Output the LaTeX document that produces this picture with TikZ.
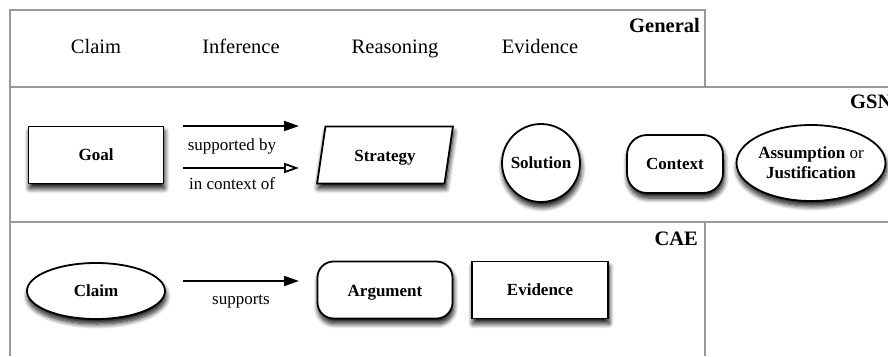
\documentclass[tikz,border=0pt]{standalone}
\usepackage{fontspec}
\setmainfont{Liberation Serif}
\usetikzlibrary{arrows.meta,shapes.geometric,shadows.blur}

\tikzset{
  frame/.style={draw=black!40, line width=2pt},
  rowhead/.style={font=\fontsize{20.5}{24}\selectfont},
  tag/.style={font=\fontsize{20.5}{24}\selectfont\bfseries, inner sep=0pt},
  elem/.style={draw=black, line width=1.8pt, fill=white,
    font=\fontsize{17}{20}\selectfont\bfseries, align=center, inner sep=2pt,
    blur shadow={shadow xshift=1pt, shadow yshift=-5pt,
      shadow blur radius=5pt, shadow blur steps=10, shadow opacity=95}},
  boxel/.style={elem, rectangle, minimum width=135pt, minimum height=57pt},
  roundel/.style={elem, rectangle, rounded corners=16pt},
  ovalel/.style={elem, ellipse},
  slantel/.style={elem, trapezium, trapezium left angle=74,
    trapezium right angle=106, trapezium stretches=true,
    minimum width=136pt, minimum height=57pt},
  rel/.style={line width=1.8pt},
  relfill/.style={rel, -{Triangle[length=15pt,width=10pt]}},
  relopen/.style={rel, -{Triangle[open,length=15pt,width=10pt,fill=white]}},
  rellabel/.style={font=\fontsize{17}{20}\selectfont, inner sep=0pt},
}

\begin{document}
\begin{tikzpicture}[x=1pt,y=-1pt]
  \useasboundingbox (0,0) rectangle (888,356);

  % table rules
  \draw[frame] (888,87) -- (9.5,87) -- (9.5,9.5) -- (705,9.5) -- (705,87);
  \draw[frame] (9.5,87) -- (9.5,356);
  \draw[frame] (9.5,222) -- (888,222);
  \draw[frame] (705,222) -- (705,356);

  % general row
  \node[rowhead, anchor=base] (hclaim) at (96,53) {Claim};
  \node[rowhead, anchor=base] (hinf) at (241,53) {Inference};
  \node[rowhead, anchor=base] (hreas) at (395,53) {Reasoning};
  \node[rowhead, anchor=base] (hevid) at (540,53) {Evidence};
  \node[tag, anchor=base east] (tgen) at (700,32) {General};

  % GSN row
  \node[tag, anchor=base west] (tgsn) at (850,108) {GSN};
  \node[boxel] (goal) at (96,155) {Goal};
  \coordinate (sb1) at (183,126);
  \coordinate (sb2) at (299,126);
  \coordinate (ic1) at (183,168);
  \coordinate (ic2) at (299,168);
  \draw[relfill] (sb1) -- (sb2);
  \draw[relopen] (ic1) -- (ic2);
  \node[rellabel, anchor=base] (lsb) at (232,150) {supported by};
  \node[rellabel, anchor=base] (lic) at (232,189) {in context of};
  \node[slantel, text height=12pt, text depth=0pt] (strategy) at (385,155) {Strategy};
  \node[ovalel, circle, minimum size=78pt, inner sep=0pt] (solution) at (541,163) {Solution};
  \node[roundel, rounded corners=20pt, minimum width=96pt, minimum height=58pt] (context) at (675,164) {Context};
  \node[ovalel, minimum width=136pt, minimum height=76pt, inner sep=0pt] (assump) at (811,163)
    {Assumption \textmd{or}\\Justification};

  % CAE row
  \node[tag, anchor=base east] (tcae) at (698,245) {CAE};
  \node[ovalel, minimum width=138pt, minimum height=56pt] (claim) at (96,291) {Claim};
  \coordinate (sp1) at (183,281);
  \coordinate (sp2) at (299,281);
  \draw[relfill] (sp1) -- (sp2);
  \node[rellabel, anchor=base] (lsp) at (241,304) {supports};
  \node[roundel, minimum width=135pt, minimum height=57pt, text height=12pt, text depth=0pt] (argument) at (385,290) {Argument};
  \node[boxel, minimum width=136pt] (evidence) at (540,290) {Evidence};
\end{tikzpicture}
\end{document}
